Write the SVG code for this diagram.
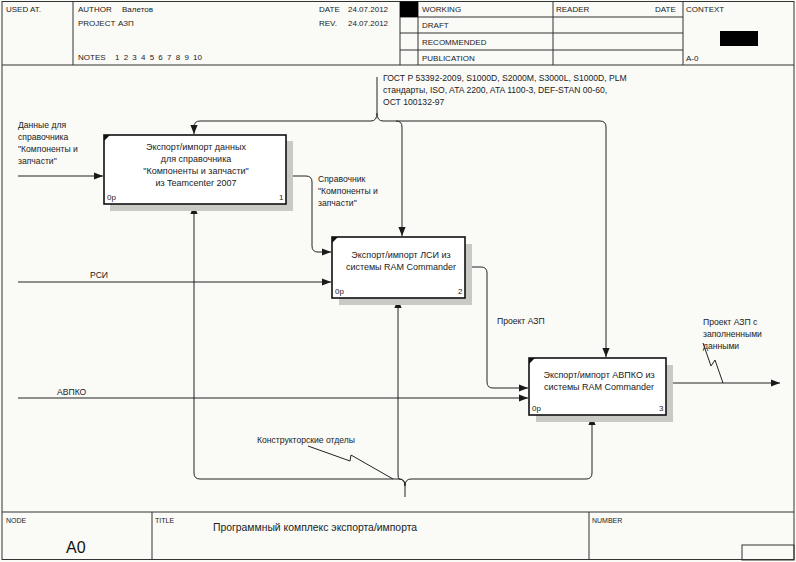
<svg xmlns="http://www.w3.org/2000/svg" width="796" height="562" viewBox="0 0 796 562">
<defs>
<marker id="ah" viewBox="0 0 10 10" refX="10" refY="5" markerWidth="9" markerHeight="9" markerUnits="userSpaceOnUse" orient="auto">
<path d="M0,1 L10,5 L0,9 Z" fill="#1a1a1a"/>
</marker>
<style>
.fr{fill:none;stroke:#333;stroke-width:1}
.t{font-family:"Liberation Sans",Arial,sans-serif;font-size:8px;fill:#222}
.l{font-family:"Liberation Sans",Arial,sans-serif;font-size:8.6px;fill:#222}
.s{font-family:"Liberation Sans",Arial,sans-serif;font-size:7px;fill:#222}
.bt{font-family:"Liberation Sans",Arial,sans-serif;font-size:9px;fill:#222}
.c{fill:none;stroke:#222;stroke-width:1}
.box{fill:#fff;stroke:#111;stroke-width:1.6}
.sh{fill:#c9c9c6}
</style>
</defs>
<rect x="0" y="0" width="796" height="562" fill="#fafaf7"/>
<g id="frame">
<rect class="fr" x="2" y="1.5" width="792" height="558"/>
<line class="fr" x1="2" y1="65" x2="794" y2="65"/>
<line class="fr" x1="73" y1="1.5" x2="73" y2="65"/>
<line class="fr" x1="400" y1="1.5" x2="400" y2="65"/>
<line class="fr" x1="418" y1="1.5" x2="418" y2="65"/>
<line class="fr" x1="553" y1="1.5" x2="553" y2="65"/>
<line class="fr" x1="683" y1="1.5" x2="683" y2="65"/>
<line class="fr" x1="400" y1="17" x2="683" y2="17"/>
<line class="fr" x1="400" y1="33" x2="683" y2="33"/>
<line class="fr" x1="400" y1="50" x2="683" y2="50"/>
<rect x="400" y="1.5" width="18" height="15.5" fill="#000"/>
<rect x="720" y="31" width="38" height="15" fill="#000"/>
<line class="fr" x1="2" y1="512" x2="794" y2="512"/>
<line class="fr" x1="152" y1="512" x2="152" y2="560"/>
<line class="fr" x1="589" y1="512" x2="589" y2="560"/>
<rect class="fr" x="742" y="545" width="52" height="15"/>
<text class="t" x="6" y="12">USED AT.</text>
<text class="t" x="78" y="12">AUTHOR</text>
<text class="t" x="122" y="12">Валетов</text>
<text class="t" x="78" y="26">PROJECT</text>
<text class="t" x="118" y="26">АЗП</text>
<text class="t" x="319" y="12">DATE</text>
<text class="t" x="348" y="12">24.07.2012</text>
<text class="t" x="319" y="26">REV.</text>
<text class="t" x="348" y="26">24.07.2012</text>
<text class="t" x="78" y="60">NOTES</text>
<text class="t" x="115" y="60" word-spacing="2">1 2 3 4 5 6 7 8 9 10</text>
<text class="t" x="422" y="12">WORKING</text>
<text class="t" x="422" y="28">DRAFT</text>
<text class="t" x="422" y="45">RECOMMENDED</text>
<text class="t" x="422" y="61">PUBLICATION</text>
<text class="t" x="556" y="12">READER</text>
<text class="t" x="655" y="12">DATE</text>
<text class="t" x="686" y="12">CONTEXT</text>
<text class="t" x="686" y="61">A-0</text>
<text class="s" x="6" y="523">NODE</text>
<text class="s" x="155" y="523">TITLE</text>
<text class="s" x="592" y="523">NUMBER</text>
<text x="66" y="553" style="font-family:'Liberation Sans',Arial,sans-serif;font-size:16px;fill:#111">A0</text>
<text x="213" y="531" style="font-family:'Liberation Sans',Arial,sans-serif;font-size:10.4px;fill:#222">Программный комплекс экспорта/импорта</text>
</g>
<g id="connectors">
<line class="c" x1="18" y1="176" x2="103" y2="176" marker-end="url(#ah)"/>
<path class="c" d="M286,176 H306 Q312,176 312,182 V246 Q312,252 318,252 H331" marker-end="url(#ah)"/>
<line class="c" x1="18" y1="282" x2="331" y2="282" marker-end="url(#ah)"/>
<line class="c" x1="18" y1="398" x2="528" y2="398" marker-end="url(#ah)"/>
<path class="c" d="M465,267 H481 Q487,267 487,273 V382 Q487,388 493,388 H528" marker-end="url(#ah)"/>
<line class="c" x1="666" y1="383" x2="780" y2="383" marker-end="url(#ah)"/>
<path class="c" d="M703,343 L711,366 L715,360 L723,383"/>
<path class="c" d="M377,77 V113 Q377,121 371,121 H200 Q194,121 194,127 V134" marker-end="url(#ah)"/>
<path class="c" d="M377,113 Q377,121 383,121 H396 Q402,121 402,127 V236" marker-end="url(#ah)"/>
<path class="c" d="M396,121 H600 Q606,121 606,127 V357" marker-end="url(#ah)"/>
<path class="c" d="M405,497 V486 Q405,479 399,479 H200 Q194,479 194,473 V205" marker-end="url(#ah)"/>
<path class="c" d="M405,486 Q405,479 399,479 Q398,479 398,473 V299" marker-end="url(#ah)"/>
<path class="c" d="M405,486 Q405,479 411,479 H586 Q592,479 592,473 V416" marker-end="url(#ah)"/>
<path class="c" d="M308,446 L350,461 L351,455 L393,479"/>
<text class="l"><tspan x="18" y="128">Данные для</tspan><tspan x="18" y="140">справочника</tspan><tspan x="18" y="152">"Компоненты и</tspan><tspan x="18" y="164">запчасти"</tspan></text>
<text class="l"><tspan x="318" y="182">Справочник</tspan><tspan x="318" y="194">"Компоненты и</tspan><tspan x="318" y="206">запчасти"</tspan></text>
<text class="l" x="90" y="278">РСИ</text>
<text class="l" x="57" y="395">АВПКО</text>
<text class="l" x="497" y="324">Проект АЗП</text>
<text class="l"><tspan x="703" y="325">Проект АЗП с</tspan><tspan x="703" y="337">заполненными</tspan><tspan x="703" y="349">данными</tspan></text>
<text class="l"><tspan x="383" y="81">ГОСТ Р 53392-2009, S1000D, S2000M, S3000L, S1000D, PLM</tspan><tspan x="383" y="93">стандарты, ISO, ATA 2200, ATA 1100-3, DEF-STAN 00-60,</tspan><tspan x="383" y="105">ОСТ 100132-97</tspan></text>
<text class="l" x="257" y="443">Конструкторские отделы</text>
</g>
<g id="box1">
<rect class="sh" x="110" y="141" width="183" height="70"/>
<rect class="box" x="104" y="135" width="182" height="69"/>
<path d="M104,135 h6 l-6,6 z" fill="#111"/>
<text class="bt" text-anchor="middle"><tspan x="196" y="150">Экспорт/импорт данных</tspan><tspan x="196" y="162">для справочника</tspan><tspan x="196" y="174">"Компоненты и запчасти"</tspan><tspan x="196" y="186">из Teamcenter 2007</tspan></text>
<text class="t" x="107" y="200">0р</text>
<text class="t" x="279" y="200">1</text>
</g>
<g id="box2">
<rect class="sh" x="339" y="244" width="133" height="61"/>
<rect class="box" x="332" y="237" width="133" height="61"/>
<path d="M332,237 h6 l-6,6 z" fill="#111"/>
<text class="bt" text-anchor="middle"><tspan x="401" y="258">Экспорт/импорт ЛСИ из</tspan><tspan x="401" y="270">системы RAM Commander</tspan></text>
<text class="t" x="335" y="294">0р</text>
<text class="t" x="458" y="294">2</text>
</g>
<g id="box3">
<rect class="sh" x="536" y="365" width="137" height="57"/>
<rect class="box" x="529" y="358" width="137" height="57"/>
<path d="M529,358 h6 l-6,6 z" fill="#111"/>
<text class="bt" text-anchor="middle"><tspan x="599" y="378">Экспорт/импорт АВПКО из</tspan><tspan x="599" y="390">системы RAM Commander</tspan></text>
<text class="t" x="532" y="411">0р</text>
<text class="t" x="659" y="411">3</text>
</g>
</svg>
